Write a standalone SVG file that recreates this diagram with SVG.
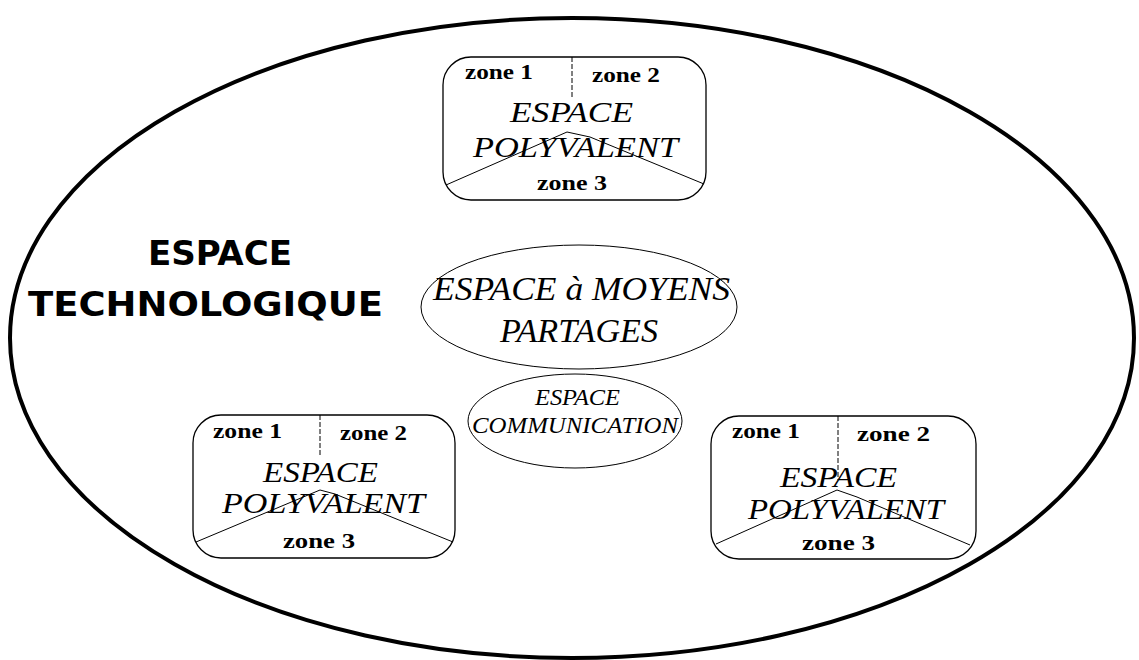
<svg xmlns="http://www.w3.org/2000/svg" width="1139" height="660" viewBox="0 0 1139 660">
<style>
.box{fill:none;stroke:#000;stroke-width:1.3}
.div{fill:none;stroke:#000;stroke-width:1;stroke-dasharray:5 2}
.chev{fill:none;stroke:#000;stroke-width:1}
.zone{font-family:"Liberation Serif",serif;font-weight:bold;font-size:21px;fill:#000}
.ital{font-family:"Liberation Serif",serif;font-style:italic;font-size:30px;fill:#000}
.mid{font-family:"Liberation Serif",serif;font-style:italic;font-size:34px;fill:#000}
.com{font-family:"Liberation Serif",serif;font-style:italic;font-size:23px;fill:#000}
.title{font-family:"DejaVu Sans Condensed","DejaVu Sans",sans-serif;font-weight:bold;font-size:34px;fill:#000}
</style>
<rect width="1139" height="660" fill="#fff"/>
<g id="outer">
<ellipse cx="572" cy="338" rx="562" ry="320" fill="none" stroke="#000" stroke-width="4"/>
<text class="title" x="148" y="265" textLength="144" lengthAdjust="spacingAndGlyphs">ESPACE</text>
<text class="title" x="28" y="316" textLength="355" lengthAdjust="spacingAndGlyphs">TECHNOLOGIQUE</text>
</g>
<g id="poly-top">
<rect class="box" x="443" y="57" width="263" height="143" rx="28"/>
<line class="div" x1="572" y1="57" x2="572" y2="97"/>
<polyline class="chev" points="446,185 567,132 590,137 704,184"/>
<text class="zone" x="465" y="79" textLength="68" lengthAdjust="spacingAndGlyphs">zone 1</text>
<text class="zone" x="592" y="82" textLength="68" lengthAdjust="spacingAndGlyphs">zone 2</text>
<text class="ital" x="510" y="122" textLength="123" lengthAdjust="spacingAndGlyphs">ESPACE</text>
<text class="ital" x="473" y="157" textLength="205" lengthAdjust="spacingAndGlyphs">POLYVALENT</text>
<text class="zone" x="537" y="190" textLength="70" lengthAdjust="spacingAndGlyphs">zone 3</text>
</g>
<g id="poly-left">
<rect class="box" x="193" y="415" width="262" height="143" rx="28"/>
<line class="div" x1="320" y1="415" x2="320" y2="455"/>
<polyline class="chev" points="196,542 320,490 335,494 453,542"/>
<text class="zone" x="213" y="438" textLength="69" lengthAdjust="spacingAndGlyphs">zone 1</text>
<text class="zone" x="340" y="440" textLength="67" lengthAdjust="spacingAndGlyphs">zone 2</text>
<text class="ital" x="263" y="482" textLength="115" lengthAdjust="spacingAndGlyphs">ESPACE</text>
<text class="ital" x="222" y="513" textLength="203" lengthAdjust="spacingAndGlyphs">POLYVALENT</text>
<text class="zone" x="283" y="548" textLength="72" lengthAdjust="spacingAndGlyphs">zone 3</text>
</g>
<g id="poly-right">
<rect class="box" x="711" y="416" width="265" height="143" rx="28"/>
<line class="div" x1="838" y1="416" x2="838" y2="480"/>
<polyline class="chev" points="716,544 837,490 857,497 970,545"/>
<text class="zone" x="732" y="438" textLength="68" lengthAdjust="spacingAndGlyphs">zone 1</text>
<text class="zone" x="857" y="441" textLength="73" lengthAdjust="spacingAndGlyphs">zone 2</text>
<text class="ital" x="780" y="487" textLength="117" lengthAdjust="spacingAndGlyphs">ESPACE</text>
<text class="ital" x="748" y="519" textLength="196" lengthAdjust="spacingAndGlyphs">POLYVALENT</text>
<text class="zone" x="802" y="550" textLength="73" lengthAdjust="spacingAndGlyphs">zone 3</text>
</g>
<g id="moyens">
<ellipse cx="579" cy="307" rx="158" ry="62" fill="none" stroke="#000" stroke-width="1"/>
<text class="mid" x="433" y="300" textLength="297" lengthAdjust="spacingAndGlyphs">ESPACE à MOYENS</text>
<text class="mid" x="500" y="342" textLength="158" lengthAdjust="spacingAndGlyphs">PARTAGES</text>
</g>
<g id="communication">
<ellipse cx="575" cy="421" rx="107" ry="47" fill="none" stroke="#000" stroke-width="1"/>
<text class="com" x="535" y="405" textLength="85" lengthAdjust="spacingAndGlyphs">ESPACE</text>
<text class="com" x="472" y="433" textLength="206" lengthAdjust="spacingAndGlyphs">COMMUNICATION</text>
</g>
<g id="connectors"></g>
</svg>
